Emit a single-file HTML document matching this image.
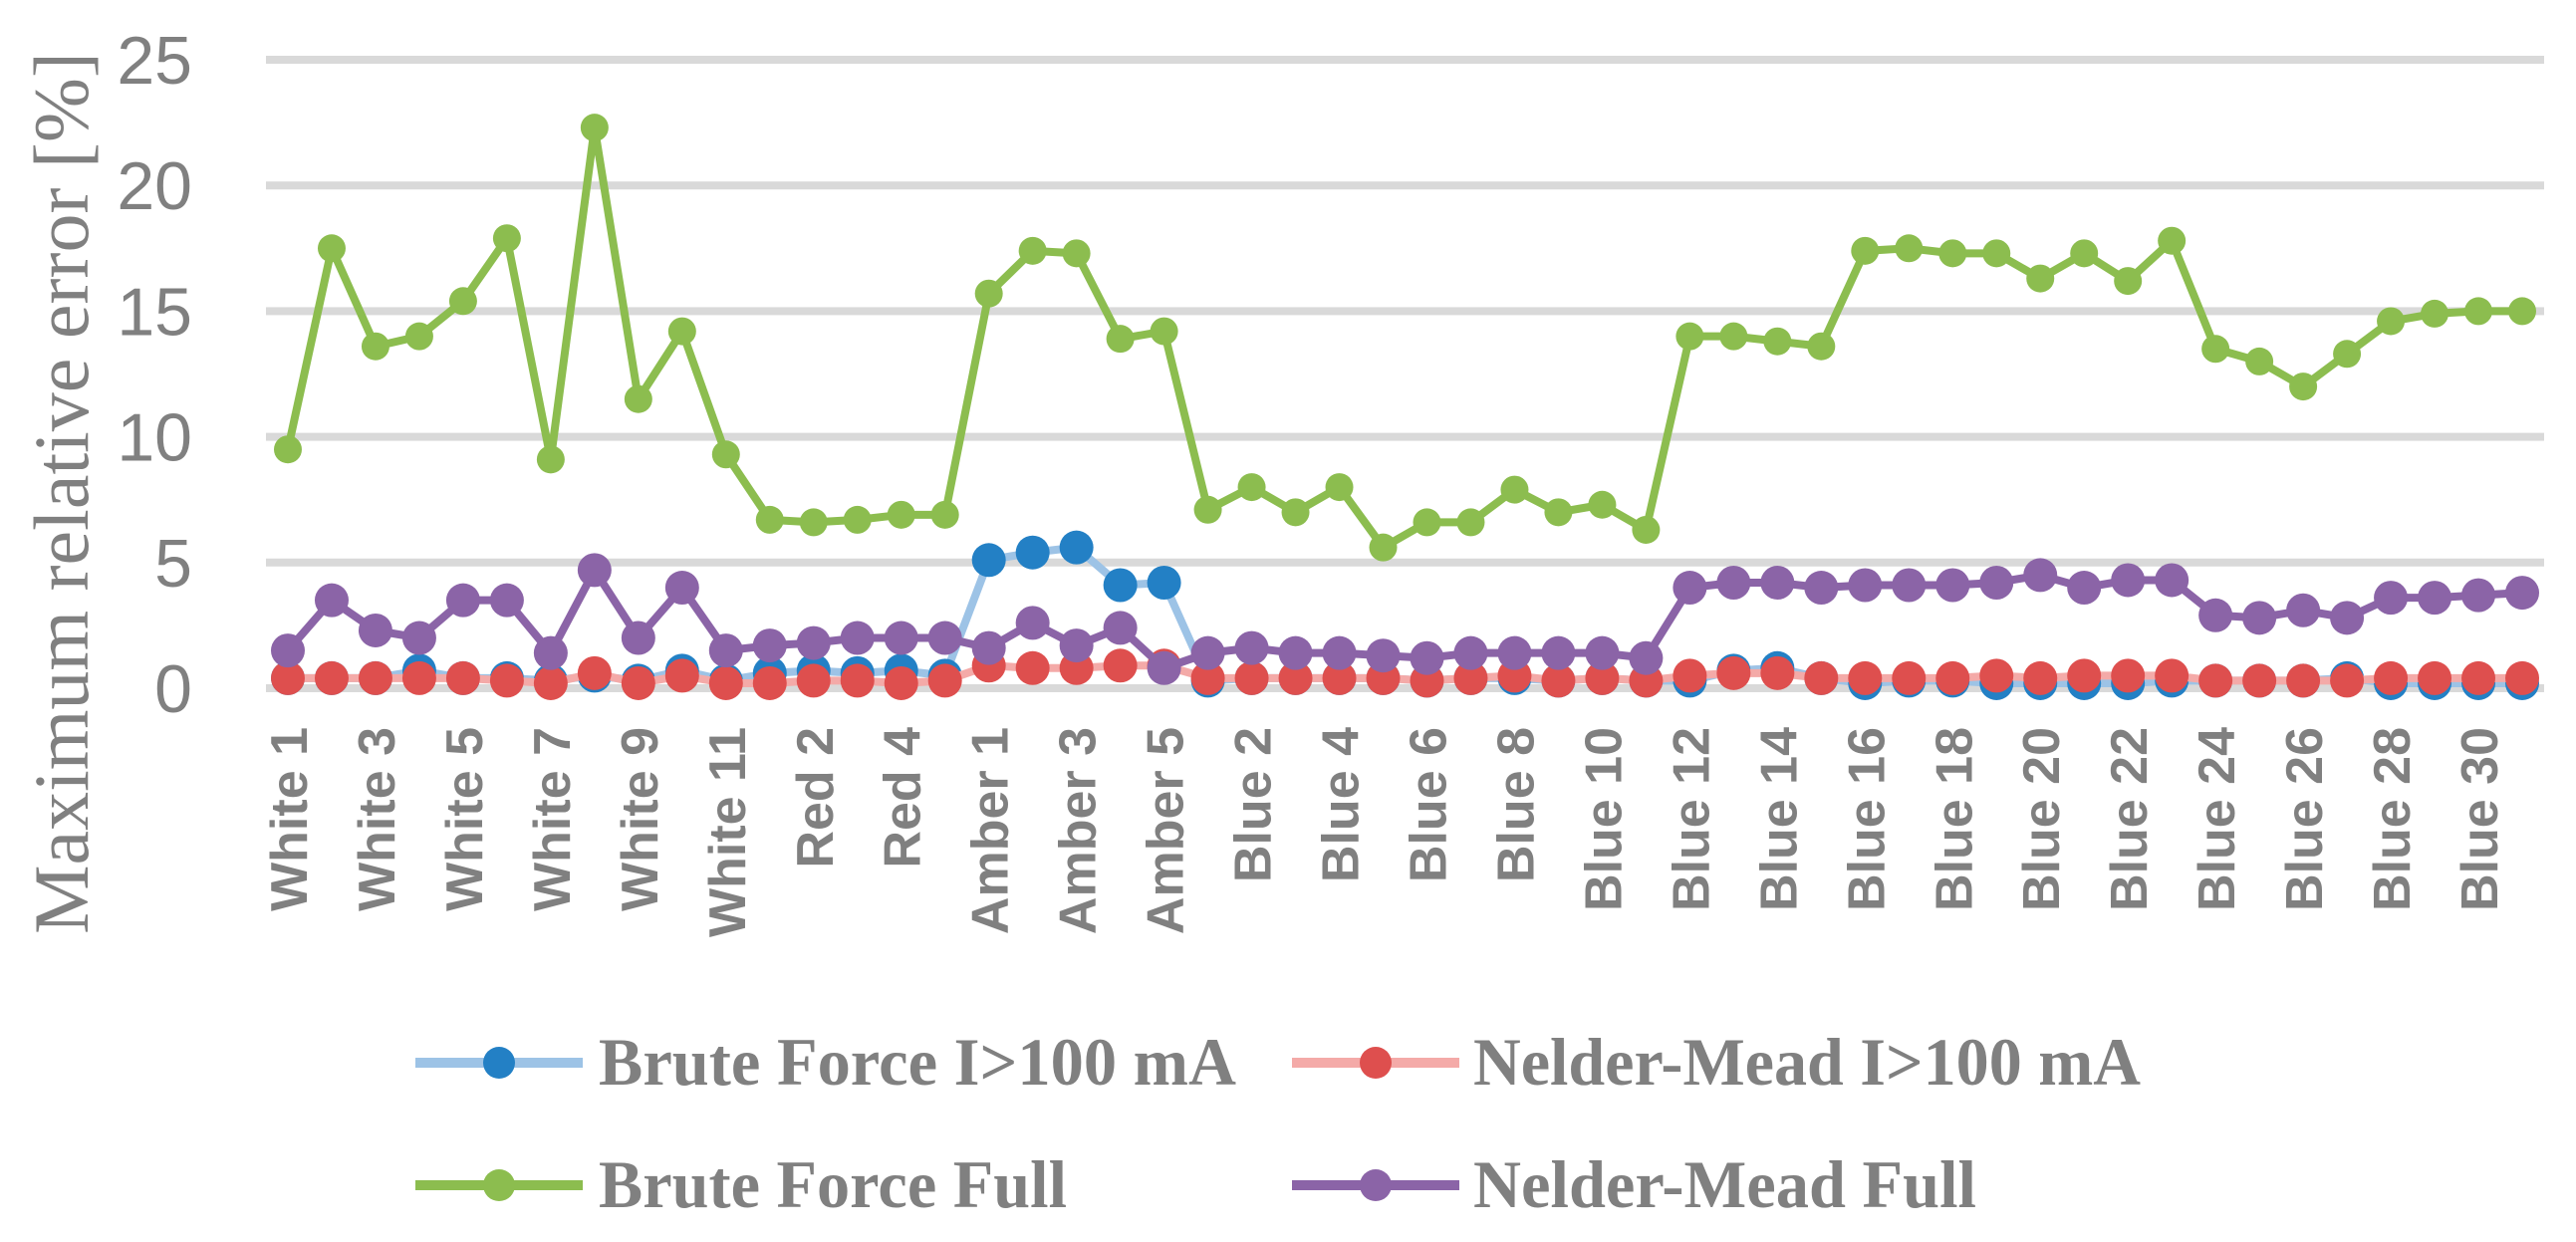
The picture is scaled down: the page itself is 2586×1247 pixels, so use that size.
<!DOCTYPE html>
<html><head><meta charset="utf-8"><style>
html,body{margin:0;padding:0;background:#fff;}
svg{display:block;}
</style></head><body>
<svg id="chart" width="2586" height="1247" viewBox="0 0 2586 1247" xmlns="http://www.w3.org/2000/svg">
<g id="grid"></g>
<g id="yticks"></g>
<text transform="translate(88,495) rotate(-90)" text-anchor="middle" font-family="Liberation Serif, serif" font-size="78" fill="#808080">Maximum relative error [%]</text>
<g id="xticks"></g>
<g id="series"></g>
<g id="legend"></g>
</svg>
<script>
const categories = ["White 1","White 2","White 3","White 4","White 5","White 6","White 7","White 8","White 9","White 10","White 11","Red 1","Red 2","Red 3","Red 4","Red 5","Amber 1","Amber 2","Amber 3","Amber 4","Amber 5","Blue 1","Blue 2","Blue 3","Blue 4","Blue 5","Blue 6","Blue 7","Blue 8","Blue 9","Blue 10","Blue 11","Blue 12","Blue 13","Blue 14","Blue 15","Blue 16","Blue 17","Blue 18","Blue 19","Blue 20","Blue 21","Blue 22","Blue 23","Blue 24","Blue 25","Blue 26","Blue 27","Blue 28","Blue 29","Blue 30","Blue 31"];
const bruteForce100 = [0.4,0.4,0.4,0.7,0.4,0.4,0.3,0.5,0.3,0.7,0.3,0.6,0.7,0.6,0.7,0.5,5.1,5.4,5.6,4.1,4.2,0.3,0.4,0.4,0.4,0.4,0.3,0.4,0.4,0.3,0.4,0.3,0.3,0.7,0.8,0.4,0.2,0.3,0.3,0.2,0.2,0.2,0.2,0.3,0.3,0.3,0.3,0.4,0.2,0.2,0.2,0.2];
const nelderMead100 = [0.4,0.4,0.4,0.4,0.4,0.3,0.2,0.6,0.2,0.5,0.2,0.2,0.3,0.3,0.2,0.3,0.9,0.8,0.8,0.9,0.9,0.4,0.4,0.4,0.4,0.4,0.3,0.4,0.5,0.3,0.4,0.3,0.5,0.6,0.6,0.4,0.4,0.4,0.4,0.5,0.4,0.5,0.5,0.5,0.3,0.3,0.3,0.3,0.4,0.4,0.4,0.4];
const bruteForceFull = [9.5,17.5,13.6,14.0,15.4,17.9,9.1,22.3,11.5,14.2,9.3,6.7,6.6,6.7,6.9,6.9,15.7,17.4,17.3,13.9,14.2,7.1,8.0,7.0,8.0,5.6,6.6,6.6,7.9,7.0,7.3,6.3,14.0,14.0,13.8,13.6,17.4,17.5,17.3,17.3,16.3,17.3,16.2,17.8,13.5,13.0,12.0,13.3,14.6,14.9,15.0,15.0];
const nelderMeadFull = [1.5,3.5,2.3,2.0,3.5,3.5,1.4,4.7,2.0,4.0,1.5,1.7,1.8,2.0,2.0,2.0,1.6,2.6,1.7,2.4,0.8,1.4,1.6,1.4,1.4,1.3,1.2,1.4,1.4,1.4,1.4,1.2,4.0,4.2,4.2,4.0,4.1,4.1,4.1,4.2,4.5,4.0,4.3,4.3,2.9,2.8,3.1,2.8,3.6,3.6,3.7,3.8];
const yTicks = [0,5,10,15,20,25];

const NS = "http://www.w3.org/2000/svg";
const X0 = 267, X1 = 2554, Y0 = 691, Y25 = 60;
const bw = (X1 - X0) / categories.length;
function xs(i){ return X0 + bw * (i + 0.5); }
function ys(v){ return Y0 - (Y0 - Y25) * v / 25; }
function mk(tag, attrs, parent){ const e = document.createElementNS(NS, tag); for (const k in attrs) e.setAttribute(k, attrs[k]); parent.appendChild(e); return e; }

const grid = document.getElementById('grid');
const yt = document.getElementById('yticks');
yTicks.forEach(v => {
  const l = mk('line', {x1:X0, x2:X1, y1:ys(v), y2:ys(v), stroke:'#d9d9d9', 'stroke-width':8}, grid);
  
  
  const t = mk('text', {x:193, y:ys(v)+24, 'text-anchor':'end', 'font-family':'Liberation Sans, sans-serif', 'font-size':68, fill:'#808080'}, yt);
  t.textContent = v;
  
  
});

const xt = document.getElementById('xticks');
categories.forEach((c, i) => {
  if (i % 2 !== 0) return;
  const t = mk('text', {transform:`translate(${xs(i)+19},730) rotate(-90)`, 'text-anchor':'end', 'font-family':'Liberation Sans, sans-serif', 'font-weight':'bold', 'font-size':52, fill:'#808080'}, xt);
  t.textContent = c;
  
  
});

const seriesG = document.getElementById('series');
const seriesDefs = [
  {data: bruteForce100, line:'#9dc3e6', marker:'#2380c5', r:17, name:'brute-force-100ma'},
  {data: nelderMead100, line:'#f4aaa8', marker:'#de4f4e', r:17, name:'nelder-mead-100ma'},
  {data: bruteForceFull, line:'#8cbd4f', marker:'#8cbd4f', r:14, name:'brute-force-full'},
  {data: nelderMeadFull, line:'#8b64a7', marker:'#8b64a7', r:17, name:'nelder-mead-full'}
];
seriesDefs.forEach(s => {
  const g = mk('g', {}, seriesG);
  
  
  const pts = s.data.map((v, i) => xs(i) + ',' + ys(v)).join(' ');
  const pl = mk('polyline', {points:pts, fill:'none', stroke:s.line, 'stroke-width':8, 'stroke-linejoin':'round'}, g);
  
  
  s.data.forEach((v, i) => {
    const c = mk('circle', {cx:xs(i), cy:ys(v), r:s.r, fill:s.marker}, g);
    
    
  });
});

const leg = document.getElementById('legend');
const legendItems = [
  {label:'Brute Force I>100 mA', line:'#9dc3e6', marker:'#2380c5', x:417, y:1067, tx:601, w:640, name:'legend-brute-force-100ma'},
  {label:'Nelder-Mead I>100 mA', line:'#f4aaa8', marker:'#de4f4e', x:1297, y:1067, tx:1479, w:670, name:'legend-nelder-mead-100ma'},
  {label:'Brute Force Full', line:'#8cbd4f', marker:'#8cbd4f', x:417, y:1190, tx:601, w:470, name:'legend-brute-force-full'},
  {label:'Nelder-Mead Full', line:'#8b64a7', marker:'#8b64a7', x:1297, y:1190, tx:1479, w:505, name:'legend-nelder-mead-full'}
];
legendItems.forEach(it => {
  const g = mk('g', {}, leg);
  
  
  mk('line', {x1:it.x, x2:it.x+168, y1:it.y, y2:it.y, stroke:it.line, 'stroke-width':10}, g);
  mk('circle', {cx:it.x+84, cy:it.y, r:16, fill:it.marker}, g);
  const t = mk('text', {x:it.tx, y:it.y+22, 'font-family':'Liberation Serif, serif', 'font-weight':'bold', 'font-size':68, fill:'#808080', textLength:it.w, lengthAdjust:'spacingAndGlyphs'}, g);
  t.textContent = it.label;
});
</script>
</body></html>
